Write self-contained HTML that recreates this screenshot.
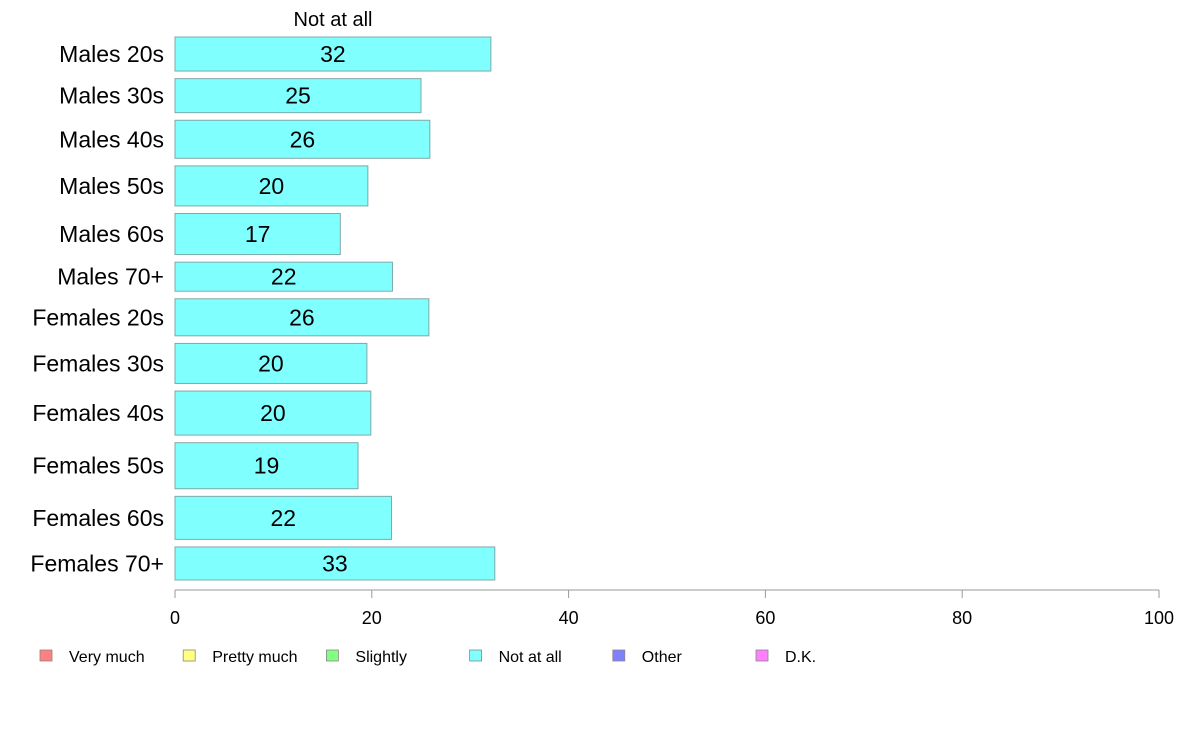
<!DOCTYPE html>
<html><head><meta charset="utf-8"><style>
body{margin:0;background:#fff;}
svg{display:block;font-family:"Liberation Sans",Arial,sans-serif;}
</style></head><body>
<svg id="chart" width="1188" height="736">
<text x="333" y="26" text-anchor="middle" font-size="20">Not at all</text>
<g id="bars"></g>
<g id="axis"></g>
<g id="legend"></g>
</svg>
<script>
const categories=["Males 20s","Males 30s","Males 40s","Males 50s","Males 60s","Males 70+","Females 20s","Females 30s","Females 40s","Females 50s","Females 60s","Females 70+"];
const values=[32.1,25.0,25.9,19.6,16.8,22.1,25.8,19.5,19.9,18.6,22.0,32.5];
const labels=["32","25","26","20","17","22","26","20","20","19","22","33"];
const weights=[34,34,38,40,41,29,37,40,44,46,43,33];
const ticks=[0,20,40,60,80,100];
const legendNames=["Very much","Pretty much","Slightly","Not at all","Other","D.K."];
const legendColors=["#ff8080","#ffff80","#80ff80","#80ffff","#8080ff","#ff80ff"];
const NS="http://www.w3.org/2000/svg";
const X0=175,X1=1159,Y0=37,Y1=580,GAP=7.6;
const x=v=>X0+(v/100)*(X1-X0);
const totalW=weights.reduce((a,b)=>a+b,0);
const hs=(Y1-Y0-GAP*(weights.length-1))/totalW;
function mk(t,a,p){const e=document.createElementNS(NS,t);for(const k in a)e.setAttribute(k,a[k]);p.appendChild(e);return e;}
const gb=document.getElementById("bars");
let y=Y0;
categories.forEach((c,i)=>{
 const h=weights[i]*hs;
 const r=mk("rect",{x:X0,y:y,width:x(values[i])-X0,height:h,fill:"#80ffff",stroke:"#7fa8a8","stroke-width":1},gb);
 
 
 const t=mk("text",{x:(X0+x(values[i]))/2,y:y+h/2+8,"text-anchor":"middle","font-size":23},gb);
 t.textContent=labels[i];
 
 
 const l=mk("text",{x:164,y:y+h/2+8,"text-anchor":"end","font-size":23},gb);
 l.textContent=c;
 
 
 y+=h+GAP;
});
const ga=document.getElementById("axis");
const al=mk("line",{x1:X0,x2:X1,y1:590,y2:590,stroke:"#999"},ga);


ticks.forEach(v=>{
 const tk=mk("line",{x1:x(v),x2:x(v),y1:590,y2:598,stroke:"#999"},ga);
 
 
 const t=mk("text",{x:x(v),y:624,"text-anchor":"middle","font-size":18},ga);
 t.textContent=v;
 
 
});
const gl=document.getElementById("legend");
legendNames.forEach((n,i)=>{
 const lx=40+i*143.2;
 const g=mk("g",{},gl);
 
 
 mk("rect",{x:lx,y:650,width:12,height:11,fill:legendColors[i],stroke:"#888","stroke-width":0.8},g);
 const t=mk("text",{x:lx+29,y:662,"font-size":16},g);
 t.textContent=n;
});
</script>
</body></html>
